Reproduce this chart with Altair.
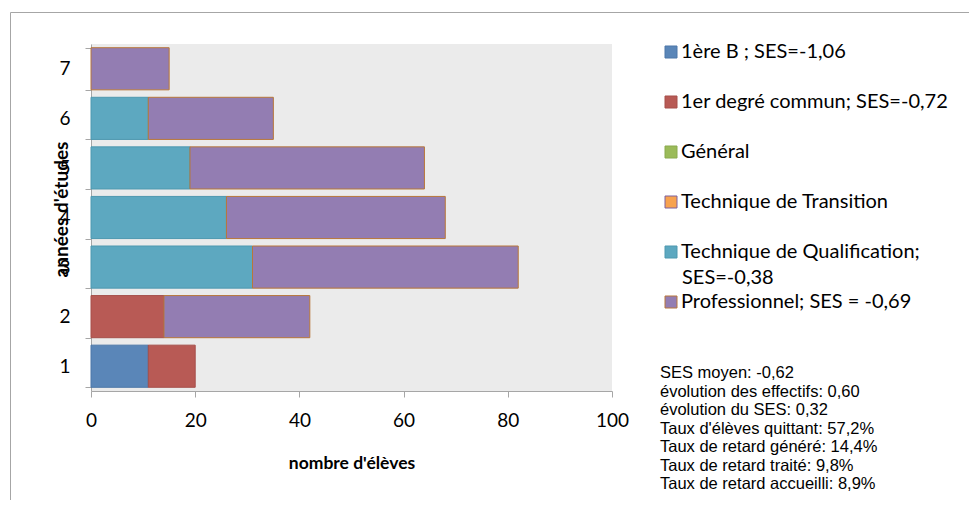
import altair as alt
import pandas as pd

years = [1, 2, 3, 4, 5, 6, 7]
series = [
    "1ère B ; SES=-1,06",
    "1er degré commun; SES=-0,72",
    "Général",
    "Technique de Transition",
    "Technique de Qualification; SES=-0,38",
    "Professionnel; SES = -0,69",
]
fill_colors = ["#5A86B8", "#B85A55", "#9BBB59", "#F7A24F", "#5DA8C0", "#937DB2"]
stroke_colors = ["#4C77A8", "#A64F4A", "#8AAA4E", "#7D60A0", "#4E98AF", "#B8773A"]

v_1ere_b = [11, 0, 0, 0, 0, 0, 0]
v_1er_degre = [9, 14, 0, 0, 0, 0, 0]
v_general = [0, 0, 0, 0, 0, 0, 0]
v_transition = [0, 0, 0, 0, 0, 0, 0]
v_qualification = [0, 0, 31, 26, 19, 11, 0]
v_professionnel = [0, 28, 51, 42, 45, 24, 15]

# wrapped part of the "Technique de Qualification" legend entry
wrapped_label = ["Technique de Qualification;", "SES=-0,38"]

stats_lines = [
    "SES moyen: -0,62",
    "évolution des effectifs: 0,60",
    "évolution du SES: 0,32",
    "Taux d'élèves quittant: 57,2%",
    "Taux de retard généré: 14,4%",
    "Taux de retard traité: 9,8%",
    "Taux de retard accueilli: 8,9%",
]

all_values = [v_1ere_b, v_1er_degre, v_general, v_transition, v_qualification, v_professionnel]
rows = []
for idx, (name, vals) in enumerate(zip(series, all_values)):
    for yr, v in zip(years, vals):
        rows.append({"year": yr, "series": name, "idx": idx, "value": v})
df = pd.DataFrame(rows)

FONT = "Lato"
LEGEND_FS = 20

bars = alt.Chart(df).transform_filter("datum.value > 0").mark_bar(strokeWidth=1).encode(
    x=alt.X(
        "value:Q",
        stack="zero",
        scale=alt.Scale(domain=[0, 100], nice=False),
        axis=alt.Axis(
            values=[0, 20, 40, 60, 80, 100],
            grid=False,
            labelFlush=False,
            domainColor="#A6A6A6",
            tickColor="#A6A6A6",
            tickSize=6,
            labelFont=FONT,
            labelFontSize=19,
            labelColor="black",
            labelPadding=14,
            title="nombre d'élèves",
            titleFont=FONT,
            titleFontSize=17.5,
            titleFontWeight="bold",
            titleColor="black",
            titleBaseline="alphabetic",
            titleY=77,
        ),
    ),
    y=alt.Y(
        "year:O",
        sort="descending",
        scale=alt.Scale(paddingInner=0.15, paddingOuter=0.075),
        axis=alt.Axis(
            grid=False,
            tickBand="extent",
            domainColor="#A6A6A6",
            tickColor="#A6A6A6",
            tickSize=6,
            labelFont=FONT,
            labelFontSize=19,
            labelColor="black",
            labelPadding=15,
            labelAngle=0,
            title="années d'études",
            titleFont=FONT,
            titleFontSize=19,
            titleFontWeight="bold",
            titleColor="black",
            titleAngle=270,
            titleAlign="center",
            titleBaseline="alphabetic",
            titleX=-24,
            titleY=165,
        ),
    ),
    color=alt.Color(
        "series:N",
        scale=alt.Scale(domain=series, range=fill_colors),
        legend=alt.Legend(
            title=None,
            orient="none",
            legendX=570,
            legendY=-1,
            padding=0,
            symbolType="square",
            symbolSize=144,
            symbolStrokeWidth=1,
            symbolOffset=0,
            clipHeight=18,
            rowPadding=30,
            labelFont=FONT,
            labelFontSize=LEGEND_FS,
            labelColor="black",
            labelLimit=400,
            labelOffset=0,
            labelExpr="indexof(datum.label, 'Qualification') >= 0 ? '" + wrapped_label[0] + "' : datum.label",
        ),
    ),
    stroke=alt.Stroke("series:N", scale=alt.Scale(domain=series, range=stroke_colors)),
    order=alt.Order("idx:Q", sort="ascending"),
)

one = pd.DataFrame({"k": [0]})

wrap_text = alt.Chart(one).mark_text(
    align="left",
    baseline="middle",
    font=FONT,
    fontSize=LEGEND_FS,
    color="black",
).encode(
    x=alt.value(591),
    y=alt.value(234),
    text=alt.value(wrapped_label[1]),
)

stats = alt.Chart(one).mark_text(
    align="left",
    baseline="top",
    font="Liberation Sans",
    fontSize=16.5,
    lineHeight=18.5,
    color="black",
).encode(
    x=alt.value(569),
    y=alt.value(321),
    text=alt.value(stats_lines),
)

frame = alt.Chart(one).mark_rect(fill=None, stroke="#A6A6A6", strokeWidth=1).encode(
    x=alt.value(-80.5),
    x2=alt.value(1200),
    y=alt.value(-31.5),
    y2=alt.value(800),
)

chart = alt.layer(frame, bars, wrap_text, stats).properties(
    width=521,
    height=347,
    autosize=alt.AutoSizeParams(type="none"),
    padding={"left": 83, "top": 36, "right": 357, "bottom": 109},
    background="white",
).configure_view(
    fill="#EBEBEB",
    stroke=None,
)

chart.save("out.html", embed_options={"renderer": "svg", "actions": False})
